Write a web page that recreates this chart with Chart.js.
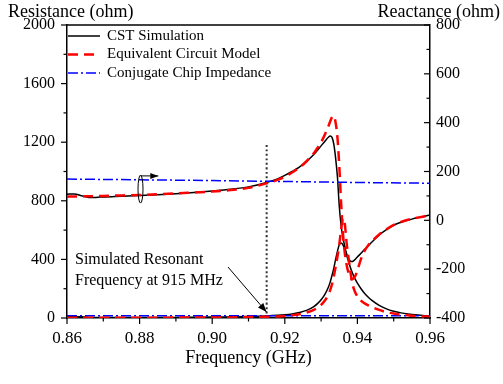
<!DOCTYPE html>
<html>
<head>
<meta charset="utf-8">
<script src="https://cdn.jsdelivr.net/npm/chart.js@4.4.0/dist/chart.umd.min.js"></script>
<style>
html, body { margin: 0; padding: 0; background: #fff; }
canvas { display: block; }
</style>
</head>
<body>
<canvas id="impedanceChart" width="503" height="384"></canvas>
<script>
// frequency grid (GHz), denser around the resonance
var freq = [0.860, 0.862, 0.864, 0.866, 0.868, 0.870, 0.875, 0.880, 0.885, 0.890,
    0.895, 0.900, 0.905, 0.910, 0.915, 0.918, 0.920, 0.922, 0.924, 0.926,
    0.928, 0.929, 0.930, 0.931, 0.932, 0.9325, 0.933, 0.9335, 0.934, 0.9345,
    0.935, 0.9355, 0.936, 0.9365, 0.937, 0.9375, 0.938, 0.9385, 0.939, 0.9395,
    0.940, 0.941, 0.942, 0.943, 0.944, 0.946, 0.948, 0.950, 0.952, 0.955,
    0.958, 0.960];

var cstResistance = [8, 9, 8, 4, 3, 3, 3, 3, 4, 4,
    5, 6, 8, 10, 14, 18, 22, 28, 38, 52,
    78, 98, 125, 160, 210, 245, 290, 340, 400, 455,
    500, 512, 500, 470, 430, 390, 350, 315, 285, 260,
    238, 200, 168, 142, 120, 86, 62, 46, 35, 24,
    17, 13];

var cstReactance = [107, 108, 101, 94, 94, 96, 99, 102, 105, 109,
    114, 120, 127, 137, 155, 170, 184, 200, 218, 242,
    270, 287, 305, 323, 340, 345, 340, 312, 255, 178,
    60, -20, -70, -105, -136, -155, -166, -169, -165, -158,
    -150, -135, -119, -104, -89, -60, -38, -20, -8, 5,
    15, 22];

var modelResistance = [2, 2, 2, 2, 2, 2, 2, 2, 2, 3,
    3, 3, 4, 6, 8, 11, 14, 19, 26, 37,
    56, 70, 90, 118, 160, 190, 230, 285, 350, 420,
    500, 600, 680, 650, 520, 420, 330, 250, 200, 170,
    148, 118, 100, 86, 75, 55, 40, 30, 23, 16,
    11, 9];

var modelReactance = [97, 98, 98, 99, 99, 100, 102, 104, 107, 110,
    114, 118, 124, 133, 152, 166, 178, 196, 216, 242,
    275, 296, 320, 350, 385, 405, 422, 428, 400, 340,
    225, 75, -50, -130, -180, -212, -232, -241, -238, -225,
    -205, -158, -124, -102, -86, -58, -37, -19, -7, 6,
    15, 21];

var chipFreq = [0.86, 0.88, 0.90, 0.92, 0.94, 0.96];
var chipResistance = [15, 15, 15, 15, 15, 15];
var chipReactance = [169, 166, 163, 159, 155, 152];

// dotted marker at the simulated resonance
var markerFreq = [0.915, 0.915];
var markerLevel = [0, 1195];

var serif = "'Liberation Serif', 'Times New Roman', serif";

function points(xs, ys) {
    return xs.map(function (x, i) { return {x: x, y: ys[i]}; });
}

function segment(ctx, x1, y1, x2, y2) {
    ctx.beginPath();
    ctx.moveTo(x1, y1);
    ctx.lineTo(x2, y2);
    ctx.stroke();
}

function arrowHead(ctx, x1, y1, x2, y2, len, half) {
    var ang = Math.atan2(y2 - y1, x2 - x1);
    ctx.beginPath();
    ctx.moveTo(x2, y2);
    ctx.lineTo(x2 - len * Math.cos(ang) + half * Math.sin(ang), y2 - len * Math.sin(ang) - half * Math.cos(ang));
    ctx.lineTo(x2 - len * Math.cos(ang) - half * Math.sin(ang), y2 - len * Math.sin(ang) + half * Math.cos(ang));
    ctx.closePath();
    ctx.fill();
}

var legendItems = [
    {text: "CST Simulation", color: "#000000", width: 1.5, dash: []},
    {text: "Equivalent Circuit Model", color: "#ff0000", width: 2.5, dash: [10, 6]},
    {text: "Conjugate Chip Impedance", color: "#0000ff", width: 1.5, dash: [10, 3, 2, 3]}
];

var decorations = {
    id: "decorations",
    afterDraw: function (chart) {
        var ctx = chart.ctx, a = chart.chartArea;
        var x = chart.scales.x, yL = chart.scales.yL, yR = chart.scales.yR;
        ctx.save();
        ctx.strokeStyle = "#000";
        ctx.fillStyle = "#000";
        ctx.setLineDash([]);

        // top frame line
        ctx.lineWidth = 1.5;
        segment(ctx, a.left, a.top, a.right, a.top);

        // tick marks (major + minor)
        ctx.lineWidth = 1.2;
        x.ticks.forEach(function (t, i) {
            var px = x.getPixelForValue(t.value);
            segment(ctx, px, a.bottom, px, a.bottom + 6);
            if (i < x.ticks.length - 1) {
                var m = x.getPixelForValue((t.value + x.ticks[i + 1].value) / 2);
                segment(ctx, m, a.bottom, m, a.bottom + 3.5);
            }
        });
        yL.ticks.forEach(function (t, i) {
            var py = yL.getPixelForValue(t.value);
            segment(ctx, a.left - 6, py, a.left, py);
            if (i < yL.ticks.length - 1) {
                var m = yL.getPixelForValue((t.value + yL.ticks[i + 1].value) / 2);
                segment(ctx, a.left - 3.5, m, a.left, m);
            }
        });
        yR.ticks.forEach(function (t, i) {
            var py = yR.getPixelForValue(t.value);
            segment(ctx, a.right - 6, py, a.right, py);
            if (i < yR.ticks.length - 1) {
                var m = yR.getPixelForValue((t.value + yR.ticks[i + 1].value) / 2);
                segment(ctx, a.right - 3.5, m, a.right, m);
            }
        });

        // axis titles
        ctx.font = "18px " + serif;
        ctx.textBaseline = "middle";
        ctx.textAlign = "left";
        ctx.fillText("Resistance (ohm)", 8, 12);
        ctx.textAlign = "right";
        ctx.fillText("Reactance (ohm)", 500, 12);
        ctx.textAlign = "center";
        ctx.fillText("Frequency (GHz)", (a.left + a.right) / 2, 358);

        // legend
        ctx.font = "15px " + serif;
        ctx.textAlign = "left";
        legendItems.forEach(function (item, i) {
            var ly = a.top + 11 + i * 18.5;
            ctx.strokeStyle = item.color;
            ctx.lineWidth = item.width;
            ctx.setLineDash(item.dash);
            segment(ctx, a.left + 1, ly, a.left + 33, ly);
            ctx.setLineDash([]);
            ctx.fillStyle = "#000";
            ctx.fillText(item.text, a.left + 40, ly);
        });

        // resonance annotation
        ctx.font = "16px " + serif;
        ctx.fillText("Simulated Resonant", x.getPixelForValue(0.8622), yL.getPixelForValue(396));
        ctx.fillText("Frequency at 915 MHz", x.getPixelForValue(0.8622), yL.getPixelForValue(253));
        ctx.strokeStyle = "#000";
        ctx.lineWidth = 1;
        var ax1 = x.getPixelForValue(0.90435), ay1 = yL.getPixelForValue(348);
        var ax2 = x.getPixelForValue(0.91496), ay2 = yL.getPixelForValue(41);
        segment(ctx, ax1, ay1, ax2, ay2);
        arrowHead(ctx, ax1, ay1, ax2, ay2, 9, 3.5);

        // ellipse + arrow pointing to the reactance axis
        var ex = x.getPixelForValue(0.88025), ey = yR.getPixelForValue(128);
        ctx.beginPath();
        ctx.ellipse(ex, ey, 2.5, 14, 0, 0, Math.PI * 2);
        ctx.stroke();
        var ty = yR.getPixelForValue(182);
        var tx = x.getPixelForValue(0.88515);
        segment(ctx, ex, ty, tx, ty);
        arrowHead(ctx, ex, ty, tx, ty, 8, 3);

        ctx.restore();
    }
};

new Chart(document.querySelector("#impedanceChart"), {
    type: "line",
    data: {
        datasets: [{
            label: "Equivalent Circuit Model",
            data: points(freq, modelReactance),
            yAxisID: "yR",
            borderColor: "#ff0000",
            borderWidth: 2.5,
            borderDash: [10, 6]
        }, {
            label: "Equivalent Circuit Model",
            data: points(freq, modelResistance),
            yAxisID: "yL",
            borderColor: "#ff0000",
            borderWidth: 2.5,
            borderDash: [10, 6]
        }, {
            label: "Conjugate Chip Impedance",
            data: points(chipFreq, chipReactance),
            yAxisID: "yR",
            borderColor: "#0000ff",
            borderWidth: 1.5,
            borderDash: [10, 3, 2, 3]
        }, {
            label: "Conjugate Chip Impedance",
            data: points(chipFreq, chipResistance),
            yAxisID: "yL",
            borderColor: "#0000ff",
            borderWidth: 1.5,
            borderDash: [10, 3, 2, 3]
        }, {
            label: "CST Simulation",
            data: points(freq, cstReactance),
            yAxisID: "yR",
            borderColor: "#000000",
            borderWidth: 1.5
        }, {
            label: "CST Simulation",
            data: points(freq, cstResistance),
            yAxisID: "yL",
            borderColor: "#000000",
            borderWidth: 1.5
        }, {
            label: "marker",
            data: points(markerFreq, markerLevel),
            yAxisID: "yL",
            borderColor: "#333333",
            borderWidth: 2,
            borderDash: [2, 2.5]
        }]
    },
    options: {
        responsive: false,
        animation: false,
        devicePixelRatio: 1,
        layout: {padding: {top: 25, left: 0, right: 0, bottom: 0}},
        elements: {
            point: {radius: 0},
            line: {fill: false, cubicInterpolationMode: "monotone"}
        },
        plugins: {
            legend: {display: false},
            tooltip: {enabled: false}
        },
        scales: {
            x: {
                type: "linear",
                min: 0.86,
                max: 0.96,
                afterFit: function (s) { s.height = 66; },
                grid: {display: false, drawTicks: false},
                border: {display: true, color: "#000", width: 1.5},
                ticks: {
                    stepSize: 0.02,
                    padding: 10,
                    color: "#000",
                    font: {family: serif, size: 17},
                    callback: function (v) { return v.toFixed(2); }
                }
            },
            yL: {
                position: "left",
                min: 0,
                max: 2000,
                afterFit: function (s) { s.width = 67; },
                grid: {display: false, drawTicks: false},
                border: {display: true, color: "#000", width: 1.5},
                ticks: {
                    stepSize: 400,
                    padding: 12,
                    color: "#000",
                    font: {family: serif, size: 16},
                    callback: function (v) { return String(v); }
                }
            },
            yR: {
                position: "right",
                min: -400,
                max: 800,
                afterFit: function (s) { s.width = 73; },
                grid: {display: false, drawTicks: false},
                border: {display: true, color: "#000", width: 1.5},
                ticks: {
                    stepSize: 200,
                    padding: 6,
                    color: "#000",
                    font: {family: serif, size: 16},
                    callback: function (v) { return String(v); }
                }
            }
        }
    },
    plugins: [decorations]
});
</script>
</body>
</html>
